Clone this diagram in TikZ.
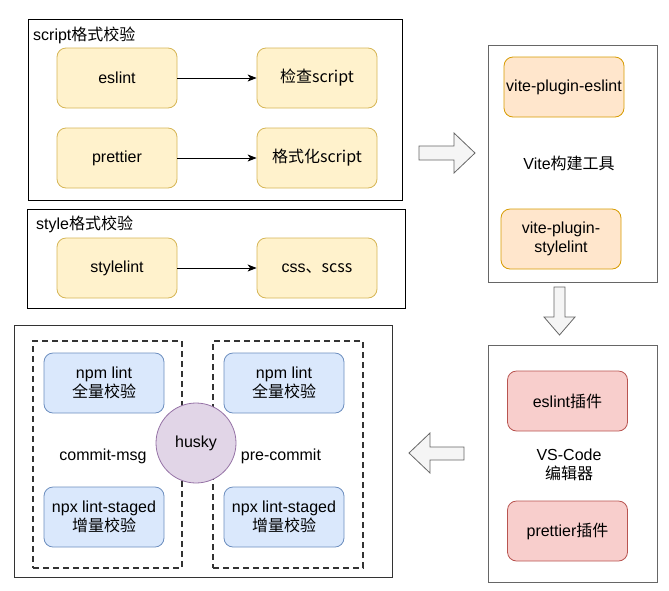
\documentclass[tikz,border=0pt]{standalone}
\usepackage{fontspec}
\setmainfont{Liberation Sans}
\newfontfamily\cjk{Noto Sans CJK SC}
\usetikzlibrary{arrows.meta}

\definecolor{yfill}{HTML}{FFF2CC} \definecolor{ydraw}{HTML}{D6B656}
\definecolor{ofill}{HTML}{FFE6CC} \definecolor{odraw}{HTML}{D79B00}
\definecolor{rfill}{HTML}{F8CECC} \definecolor{rdraw}{HTML}{B85450}
\definecolor{bfill}{HTML}{DAE8FC} \definecolor{bdraw}{HTML}{6C8EBF}
\definecolor{pfill}{HTML}{E1D5E7} \definecolor{pdraw}{HTML}{9673A6}
\definecolor{afill}{HTML}{F5F5F5} \definecolor{adraw}{HTML}{666666}
\definecolor{gdraw}{HTML}{666666}

\begin{document}
\begin{tikzpicture}
[
    x=1pt, y=-1pt, font=\fontsize{16}{19}\selectfont,
    % Every node sits at its centre, given in pixels of the page,
    % with y growing downwards
    % Frames are named F-..., boxes Y-..., O-..., R-..., B-...
]

%=================================== Start ===================================
\tikzstyle{frame} = [draw=black, line width=1pt, inner sep=0pt]
\tikzstyle{dframe} = [draw=black!80, line width=1.6pt, dash pattern=on 6pt off 4pt, inner sep=0pt]
\tikzstyle{box}   = [draw, line width=0.8pt, rounded corners=9pt, align=center,
                     minimum width=120pt, minimum height=60pt, inner sep=0pt]
\tikzstyle{yel}   = [box, fill=yfill, draw=ydraw]
\tikzstyle{ora}   = [box, fill=ofill, draw=odraw]
\tikzstyle{red}   = [box, fill=rfill, draw=rdraw]
\tikzstyle{blu}   = [box, fill=bfill, draw=bdraw]
\tikzstyle{lbl}   = [align=center, inner sep=0pt]
\tikzstyle{barrow} = [fill=afill, draw=adraw, line width=0.8pt, line join=miter]

\useasboundingbox (0,0) rectangle (669,590);
{
    % Draw frames
    \node[frame, minimum width=374pt, minimum height=181pt] (F-script) at (215,109.5) {};
    \node[frame, minimum width=378pt, minimum height=99pt]  (F-style)  at (216,258.5) {};
    \node[frame, draw=gdraw, minimum width=169pt, minimum height=237pt] (F-vite) at (572.5,163.5) {};
    \node[frame, draw=gdraw, minimum width=169pt, minimum height=237pt] (F-code) at (572.5,463.5) {};
    \node[frame, draw=black!80, minimum width=378pt, minimum height=252pt] (F-git) at (203,451) {};
    \node[dframe, minimum width=149pt, minimum height=227pt] (F-msg) at (107.5,454.5) {};
    \node[dframe, minimum width=150pt, minimum height=227pt] (F-pre) at (288,454.5) {};

    % Draw titles
    \node[anchor=west, inner sep=0pt] (T-script) at (33,35) {script\cjk{格式校验}};
    \node[anchor=west, inner sep=0pt] (T-style)  at (36,224) {style\cjk{格式校验}};

    % Draw the yellow boxes
    \foreach \name / \x / \y / \txt in {eslint/117/78/eslint, check/317/78/{\cjk{检查}script},
                                        prettier/117/158/prettier, format/317/158/{\cjk{格式化}script},
                                        stylelint/117/268/stylelint, css/317/268/{css\cjk{、}scss}}
        \node[yel] (Y-\name) at (\x,\y) {\txt};

    % Vite boxes
    \node[ora] (O-eslint) at (564,87) {vite-plugin-eslint};
    \node[ora] (O-stylelint) at (561,239) {vite-plugin-\\stylelint};
    \node[lbl] (T-vite) at (569,163) {Vite\cjk{构建工具}};

    % VS-Code boxes
    \node[red] (R-eslint) at (567.5,401) {eslint\cjk{插件}};
    \node[red] (R-prettier) at (567.5,531) {prettier\cjk{插件}};
    \node[lbl] (T-code) at (569,465) {VS-Code\\\cjk{编辑器}};

    % Git hook boxes
    \foreach \side / \x in {msg/104, pre/284} {
        \node[blu] (B-\side-full) at (\x,383) {npm lint\\\cjk{全量校验}};
        \node[blu] (B-\side-staged) at (\x,517) {npx lint-staged\\\cjk{增量校验}};
    }
    \node[lbl] (T-msg) at (103,456) {commit-msg};
    \node[lbl] (T-pre) at (281,456) {pre-commit};
    \node[circle, fill=pfill, draw=pdraw, line width=0.8pt, minimum size=80pt, inner sep=0pt]
          (husky) at (196,443) {husky};

    % Connect boxes
    \foreach \a / \b in {eslint/check, prettier/format, stylelint/css}
        \draw[-{Stealth[length=9pt, width=7pt, inset=2.5pt]}, line width=0.8pt] (Y-\a) -- (Y-\b);

    % Block arrows between the frames
    \draw[barrow] (419,146) -- (454,146) -- (454,133) -- (475,153)
                  -- (454,173) -- (454,160) -- (419,160) -- cycle;
    \draw[barrow] (554,287) -- (565,287) -- (565,317) -- (575,317)
                  -- (559.5,335) -- (544,317) -- (554,317) -- cycle;
    \draw[barrow] (464,447) -- (430,447) -- (430,433) -- (409,453)
                  -- (430,473) -- (430,460) -- (464,460) -- cycle;
}
%==================================== END ====================================

\end{tikzpicture}
\end{document}
